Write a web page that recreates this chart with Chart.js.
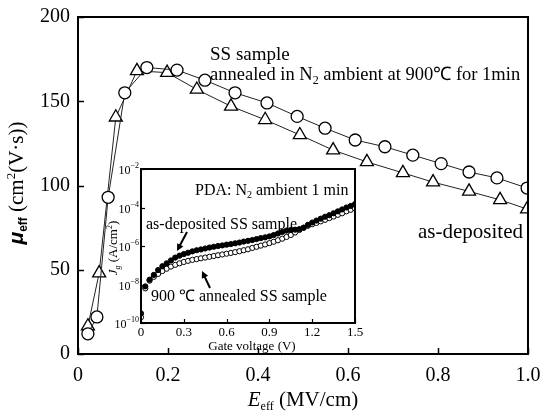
<!DOCTYPE html>
<html><head><meta charset="utf-8">
<script src="https://cdn.jsdelivr.net/npm/chart.js@4.4.0/dist/chart.umd.min.js"></script>
<style>
html,body{margin:0;padding:0;background:#fff;}
#wrap{position:relative;width:543px;height:417px;}
#mainChart{position:absolute;left:0;top:0;}
#insetChart{position:absolute;left:95px;top:160px;}
</style></head><body>
<div id="wrap"><canvas id="mainChart" width="543" height="417"></canvas><canvas id="insetChart" width="275" height="200"></canvas></div>
<script>
// main plot: mobility vs effective field
const annealedE  = [0.022,0.042,0.067,0.104,0.153,0.22,0.282,0.349,0.42,0.487,0.549,0.616,0.682,0.744,0.807,0.869,0.931,0.998];
const annealedMu = [12,22,93,155,170,168.5,162.5,155,149,141,134,127,123,118,113,108,104.5,98.5];
const asDepE  = [0.022,0.047,0.084,0.131,0.198,0.264,0.34,0.416,0.493,0.567,0.642,0.722,0.789,0.869,0.938,0.998];
const asDepMu = [16.5,48,140.5,168,167,157,147,139,130,121,114,107.5,102,96.5,91.5,86];
const xTicks = [0,0.2,0.4,0.6,0.8,1.0];
const yTicks = [0,50,100,150,200];

// inset: gate leakage (log10 of A/cm2) vs gate voltage
const gateV = [0,0.03,0.06,0.09,0.12,0.15,0.18,0.21,0.24,0.27,0.30,0.33,0.36,0.39,0.42,0.45,0.48,0.51,0.54,0.57,0.60,0.63,0.66,0.69,0.72,0.75,0.78,0.81,0.84,0.87,0.90,0.93,0.96,0.99,1.02,1.05,1.08,1.11,1.14,1.17,1.20,1.23,1.26,1.29,1.32,1.35,1.38,1.41,1.44,1.47,1.50];
const jgAsDepExp = [-9.5,-8.1,-7.75,-7.5,-7.25,-7.05,-6.9,-6.75,-6.6,-6.5,-6.42,-6.35,-6.28,-6.22,-6.18,-6.13,-6.08,-6.04,-6.0,-5.97,-5.93,-5.9,-5.86,-5.82,-5.77,-5.73,-5.69,-5.64,-5.59,-5.55,-5.5,-5.43,-5.35,-5.27,-5.2,-5.17,-5.15,-5.12,-5.05,-4.9,-4.78,-4.68,-4.58,-4.48,-4.4,-4.3,-4.2,-4.1,-4.0,-3.92,-3.82];
const jgAnnealExp = [-9.7,-8.2,-7.8,-7.6,-7.45,-7.3,-7.18,-7.07,-6.98,-6.9,-6.83,-6.77,-6.72,-6.68,-6.64,-6.6,-6.56,-6.52,-6.48,-6.44,-6.4,-6.36,-6.32,-6.27,-6.22,-6.17,-6.1,-6.04,-5.98,-5.92,-5.85,-5.78,-5.7,-5.62,-5.53,-5.43,-5.3,-5.17,-5.05,-4.95,-4.87,-4.8,-4.72,-4.64,-4.55,-4.47,-4.38,-4.3,-4.2,-4.12,-4.05];
const insetXTicks = [0,0.3,0.6,0.9,1.2,1.5];
const insetYExp = [-10,-8,-6,-4,-2];

const SERIF = 'Liberation Serif';

function drawRuns(ctx, x, y, parts, align) {
  let w = 0;
  parts.forEach(p => { ctx.font = p[1]; w += ctx.measureText(p[0]).width; });
  let cx = align === 'center' ? x - w/2 : align === 'right' ? x - w : x;
  ctx.textAlign = 'left'; ctx.textBaseline = 'alphabetic'; ctx.fillStyle = '#000';
  parts.forEach(p => { ctx.font = p[1]; ctx.fillText(p[0], cx, y + (p[2]||0)); cx += ctx.measureText(p[0]).width; });
  return w;
}
function arrow(ctx, x1, y1, x2, y2) {
  const a = Math.atan2(y2-y1, x2-x1), L = 7, W = 3.5;
  ctx.strokeStyle = '#000'; ctx.fillStyle = '#000'; ctx.lineWidth = 2;
  ctx.beginPath(); ctx.moveTo(x1,y1); ctx.lineTo(x2-Math.cos(a)*L*0.8, y2-Math.sin(a)*L*0.8); ctx.stroke();
  ctx.beginPath(); ctx.moveTo(x2,y2);
  ctx.lineTo(x2-Math.cos(a)*L+Math.sin(a)*W, y2-Math.sin(a)*L-Math.cos(a)*W);
  ctx.lineTo(x2-Math.cos(a)*L-Math.sin(a)*W, y2-Math.sin(a)*L+Math.cos(a)*W);
  ctx.closePath(); ctx.fill();
}
// keep the plot box where the picture has it, not shrunk for edge tick labels
function noEdgePad(s) { s.paddingLeft = 0; s.paddingRight = 0; s.paddingTop = 0; s.paddingBottom = 0; }

const mainFrame = {
  id:'mainFrame',
  afterDraw(c) {
    const ctx = c.ctx, a = c.chartArea, sx = c.scales.x, sy = c.scales.y;
    ctx.save();
    ctx.strokeStyle = '#000'; ctx.lineWidth = 2;
    ctx.strokeRect(a.left, a.top, a.right-a.left, a.bottom-a.top);
    ctx.lineWidth = 1.5;
    xTicks.forEach(v => { const px = Math.round(sx.getPixelForValue(v))+0.5; ctx.beginPath(); ctx.moveTo(px, a.bottom); ctx.lineTo(px, a.bottom-6); ctx.stroke(); });
    yTicks.forEach(v => { const py = Math.round(sy.getPixelForValue(v))+0.5; ctx.beginPath(); ctx.moveTo(a.left, py); ctx.lineTo(a.left+6, py); ctx.stroke(); });
    // axis titles
    drawRuns(ctx, (a.left+a.right)/2, 406, [['E','italic 21px '+SERIF],['eff','12px '+SERIF,4],[' (MV/cm)','21px '+SERIF]], 'center');
    ctx.translate(23, 183); ctx.rotate(-Math.PI/2);
    drawRuns(ctx, 0, 0, [['μ','bold italic 21px Liberation Sans'],['eff','bold 12px Liberation Sans',4],[' (cm','21px '+SERIF],['2','13px '+SERIF,-8],['(V·s))','21px '+SERIF]], 'center');
    ctx.setTransform(1,0,0,1,0,0);
    // annotations
    drawRuns(ctx, 210, 60, [['SS sample','19px '+SERIF]]);
    drawRuns(ctx, 210, 80, [['annealed in N','18.5px '+SERIF],['2','12px '+SERIF,4],[' ambient at 900℃ for 1min','18.5px '+SERIF]]);
    drawRuns(ctx, 418, 238, [['as-deposited','21px '+SERIF]]);
    ctx.restore();
  }
};

const fontT = {family:SERIF, size:20};
new Chart(document.getElementById('mainChart'), {
  type:'line',
  data:{datasets:[
    {label:'annealed', data:annealedE.map((x,i)=>({x, y:annealedMu[i]})), borderColor:'#222', borderWidth:1,
     pointStyle:'circle', pointRadius:6, pointBorderWidth:1.3, pointBorderColor:'#000', pointBackgroundColor:'#fff', clip:0},
    {label:'as-deposited', data:asDepE.map((x,i)=>({x, y:asDepMu[i]})), borderColor:'#222', borderWidth:1,
     pointStyle:'triangle', pointRadius:7.5, pointBorderWidth:1.3, pointBorderColor:'#000', pointBackgroundColor:'#fff', clip:0}
  ]},
  options:{
    responsive:false, animation:false, events:[],
    layout:{padding:{top:17, right:15, left:0, bottom:0}},
    plugins:{legend:{display:false}, tooltip:{enabled:false}},
    scales:{
      x:{type:'linear', min:0, max:1,
        afterBuildTicks:s=>{ s.ticks = xTicks.map(v=>({value:v})); },
        ticks:{padding:10, color:'#000', font:fontT, maxRotation:0, callback:v=>v===0?'0':v.toFixed(1)},
        grid:{display:false, drawTicks:false}, border:{display:false},
        afterFit:s=>{ s.height = 63; noEdgePad(s); }},
      y:{type:'linear', min:0, max:200,
        afterBuildTicks:s=>{ s.ticks = yTicks.map(v=>({value:v})); },
        ticks:{padding:8, color:'#000', font:fontT},
        grid:{display:false, drawTicks:false}, border:{display:false},
        afterFit:s=>{ s.width = 78; noEdgePad(s); }}
    }
  },
  plugins:[mainFrame]
});

const insetFrame = {
  id:'insetFrame',
  afterDraw(c) {
    const ctx = c.ctx, a = c.chartArea, sx = c.scales.x, sy = c.scales.y;
    ctx.save();
    ctx.strokeStyle = '#000'; ctx.lineWidth = 2;
    ctx.strokeRect(a.left, a.top, a.right-a.left, a.bottom-a.top);
    ctx.lineWidth = 1.2;
    insetXTicks.forEach(v => { const px = Math.round(sx.getPixelForValue(v))+0.5; ctx.beginPath(); ctx.moveTo(px, a.bottom); ctx.lineTo(px, a.bottom-4); ctx.stroke(); });
    insetYExp.forEach(e => {
      const py = Math.round(sy.getPixelForValue(Math.pow(10,e)))+0.5;
      ctx.beginPath(); ctx.moveTo(a.left, py); ctx.lineTo(a.left+4, py); ctx.stroke();
      drawRuns(ctx, a.left-2, py+4, [['10','12px '+SERIF],[String(e).replace('-','−'),'8px '+SERIF,-6]], 'right');
    });
    drawRuns(ctx, (a.left+a.right)/2+4, 190, [['Gate voltage (V)','13px '+SERIF]], 'center');
    ctx.translate(22, 88); ctx.rotate(-Math.PI/2);
    drawRuns(ctx, 0, 0, [['J','italic 13px '+SERIF],['g','italic 8px '+SERIF,3],[' (A/cm','13px '+SERIF],['2','8px '+SERIF,-5],[')','13px '+SERIF]], 'center');
    ctx.setTransform(1,0,0,1,0,0);
    drawRuns(ctx, 100, 35, [['PDA: N','16px '+SERIF],['2','10px '+SERIF,3],[' ambient 1 min','16px '+SERIF]]);
    drawRuns(ctx, 51, 69, [['as-deposited SS sample','16px '+SERIF]]);
    drawRuns(ctx, 56, 141, [['900 ℃ annealed SS sample','16px '+SERIF]]);
    arrow(ctx, 92, 72, 82, 91);
    arrow(ctx, 115, 128, 107, 111);
    ctx.restore();
  }
};

const fontI = {family:SERIF, size:13};
new Chart(document.getElementById('insetChart'), {
  type:'scatter',
  data:{datasets:[
    {label:'as-deposited', data:gateV.map((x,i)=>({x, y:Math.pow(10, jgAsDepExp[i])})), pointRadius:2.6,
     pointBorderWidth:1, pointBorderColor:'#000', pointBackgroundColor:'#000', clip:0},
    {label:'annealed', data:gateV.map((x,i)=>({x, y:Math.pow(10, jgAnnealExp[i])})), pointRadius:2.6,
     pointBorderWidth:1, pointBorderColor:'#000', pointBackgroundColor:'#fff', clip:0}
  ]},
  options:{
    responsive:false, animation:false, events:[],
    layout:{padding:{top:9, right:15, left:0, bottom:0}},
    plugins:{legend:{display:false}, tooltip:{enabled:false}},
    scales:{
      x:{type:'linear', min:0, max:1.5,
        afterBuildTicks:s=>{ s.ticks = insetXTicks.map(v=>({value:v})); },
        ticks:{padding:2, color:'#000', font:fontI, maxRotation:0, callback:v=>v===0?'0':v.toFixed(1)},
        grid:{display:false, drawTicks:false}, border:{display:false},
        afterFit:s=>{ s.height = 37; noEdgePad(s); }},
      y:{type:'logarithmic', min:1e-10, max:1e-2,
        afterBuildTicks:s=>{ s.ticks = insetYExp.map(e=>({value:Math.pow(10,e)})); },
        ticks:{display:false},
        grid:{display:false, drawTicks:false}, border:{display:false},
        afterFit:s=>{ s.width = 46; noEdgePad(s); }}
    }
  },
  plugins:[insetFrame]
});
</script>
</body></html>
